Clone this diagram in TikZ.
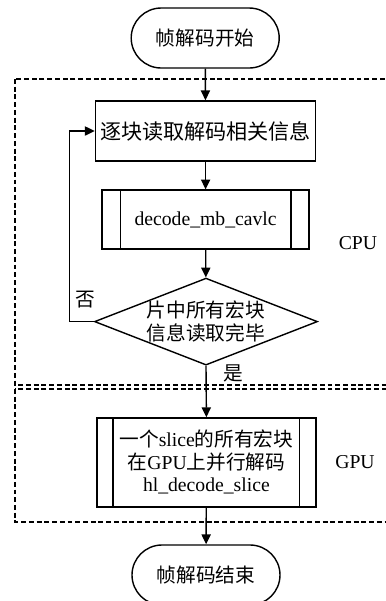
\documentclass[tikz,border=0pt]{standalone}
\usepackage{fontspec}
\setmainfont{Liberation Serif}
\newfontfamily\cjk{Noto Sans CJK SC}
\newcommand{\zh}[1]{{\cjk #1}}
\usetikzlibrary{shapes.geometric,arrows.meta,positioning}

\tikzset{
  every node/.style={font=\fontsize{14}{16}\selectfont},
  termbox/.style={draw, line width=1pt, rounded corners=0.75cm,
    minimum width=3.7cm, minimum height=1.5cm},
  stepbox/.style={draw, line width=1pt, minimum width=5.175cm, minimum height=1.5cm},
  procbox/.style={draw, line width=1pt, minimum width=5.175cm, minimum height=1.475cm, align=center},
  decision/.style={draw, diamond, line width=1pt, aspect=2.56, inner sep=0pt,
    minimum width=5.575cm, minimum height=2.175cm, align=center},
  groupbox/.style={draw, line width=0.8pt, dash pattern=on 3.5pt off 2pt},
  flow/.style={-{Triangle[length=7pt,width=6.5pt]}, line width=1pt},
}

\begin{document}
\begin{tikzpicture}
    \path[use as bounding box, clip] (0,0) rectangle (9.65,-15.025);

    % CPU / GPU regions
    \draw[groupbox] (0.375,-1.975) rectangle (10.2,-9.625);
    \draw[groupbox] (0.375,-9.725) rectangle (10.2,-13.05);
    \node (cpu) at (8.95,-6.075) {CPU};
    \node (gpulabel) at (8.875,-11.55) {GPU};

    \node[termbox] (start) at (5.13,-0.95) {\zh{帧解码开始}};
    \node[stepbox, font=\fontsize{15}{17}\selectfont] (read) at (5.14,-3.275) {\zh{逐块读取解码相关信息}};
    \node[procbox] (mb) at (5.14,-5.49) {decode\_mb\_cavlc};
    \node[decision] (done) at (5.15,-8.04) {\zh{片中所有宏块}\\\zh{信息读取完毕}};
    \node[procbox, minimum width=5.475cm, minimum height=2.225cm] (gpu) at (5.16,-11.56)
        {\zh{一个}slice\zh{的所有宏块}\\\zh{在}GPU\zh{上并行解码}\\hl\_decode\_slice};
    \node[termbox] (stop) at (5.15,-14.375) {\zh{帧解码结束}};

    % side bars of the process boxes
    \draw[line width=1pt] ([xshift=0.475cm]mb.north west) -- ([xshift=0.475cm]mb.south west);
    \draw[line width=1pt] ([xshift=-0.475cm]mb.north east) -- ([xshift=-0.475cm]mb.south east);
    \draw[line width=1pt] ([xshift=0.425cm]gpu.north west) -- ([xshift=0.425cm]gpu.south west);
    \draw[line width=1pt] ([xshift=-0.425cm]gpu.north east) -- ([xshift=-0.425cm]gpu.south east);

    \draw[flow] (start) -- (read);
    \draw[flow] (read) -- (mb);
    \draw[flow] (mb) -- (done);
    \draw[flow] (done.south) -- node[pos=0.15, right=0.3cm] {\zh{是}} (gpu.north);
    \draw[flow] (done.west) -- node[pos=0.35, above=0.2cm] {\zh{否}} ++(-0.6,0) |- (read.west);
    \draw[flow] (gpu) -- (stop);
\end{tikzpicture}
\end{document}
